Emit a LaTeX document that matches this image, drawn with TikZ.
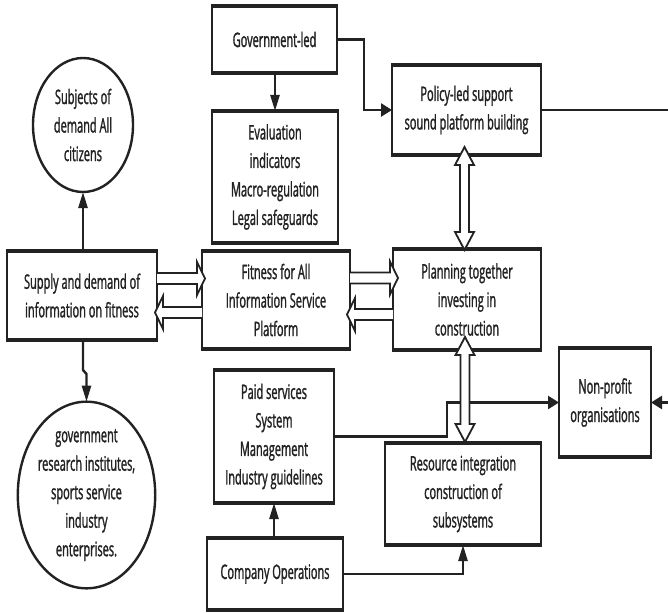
\documentclass[tikz,border=0pt]{standalone}
\usepackage{fontspec}
\setmainfont{Open Sans}[FakeStretch=0.55,FakeBold=1.3]
\usetikzlibrary{arrows.meta,shapes.geometric,calc}
\definecolor{ink}{HTML}{222222}
\begin{document}
\begin{tikzpicture}[x=1pt,y=-1pt,
  box/.style={draw=ink, line width=2pt, outer sep=0pt, inner sep=0pt, align=center,
    font=\fontsize{20}{28.5}\selectfont, text=ink},
  oval/.style={ellipse, draw=ink, line width=2.4pt, outer sep=0pt, inner sep=0pt, align=center,
    font=\fontsize{20}{28.5}\selectfont, text=ink},
  conn/.style={draw=ink, line width=2.4pt},
  vtip/.style={-{Triangle[length=16pt,width=9pt]}},
  htip/.style={-{Triangle[length=11pt,width=13pt]}},
  hollowh/.style={draw=ink, fill=white, line width=1.8pt, line join=miter,
    to path={let \p1=(\tikztostart),\p2=(\tikztotarget),\n1={ifthenelse(\x2>\x1,1,-1)} in
      (\x1,\y1+5.5pt) -- (\x2-\n1*8pt,\y1+5.5pt) -- (\x2-\n1*8pt,\y1+16.5pt) -- (\x2,\y1)
      -- (\x2-\n1*8pt,\y1-16.5pt) -- (\x2-\n1*8pt,\y1-5.5pt) -- (\x1,\y1-5.5pt)}},
  hollowv/.style={draw=ink, fill=white, line width=1.8pt, line join=miter,
    to path={let \p1=(\tikztostart),\p2=(\tikztotarget) in
      (\x1,\y1) -- (\x1+9.5pt,\y1-18pt) -- (\x1+4.5pt,\y1-18pt) -- (\x1+4.5pt,\y2+18pt)
      -- (\x1+9.5pt,\y2+18pt) -- (\x1,\y2) -- (\x1-9.5pt,\y2+18pt) -- (\x1-4.5pt,\y2+18pt)
      -- (\x1-4.5pt,\y1-18pt) -- (\x1-9.5pt,\y1-18pt) -- cycle}},
]
\useasboundingbox[fill=white] (0,0) rectangle (668,612);

% boxes
\node[box, minimum width=125pt, minimum height=67pt] (gov) at (274.5,39.5) {Government-led};
\node[box, minimum width=126pt, minimum height=132pt] (eval) at (275,177)
  {Evaluation\\indicators\\Macro-regulation\\Legal safeguards};
\node[box, minimum width=149pt, minimum height=90pt] (policy) at (466.5,110)
  {Policy-led support\\sound platform building};
\node[box, minimum width=150pt, minimum height=89pt] (supply) at (82,295.5)
  {Supply and demand of\\information on fitness};
\node[box, minimum width=148pt, minimum height=98pt] (fitness) at (276,300)
  {Fitness for All\\Information Service\\Platform};
\node[box, minimum width=148pt, minimum height=101pt] (planning) at (467,299.5)
  {Planning together\\investing in\\construction};
\node[box, minimum width=120pt, minimum height=133pt] (paid) at (274,436.5)
  {Paid services\\System\\Management\\Industry guidelines};
\node[box, minimum width=136pt, minimum height=72pt] (company) at (275,574)
  {Company Operations};
\node[box, minimum width=156pt, minimum height=102pt] (resource) at (463,494)
  {Resource integration\\construction of\\subsystems};
\node[box, minimum width=92pt, minimum height=109pt] (np) at (605,402.5)
  {Non-profit\\organisations};

% thicker top and bottom edges
\foreach \n in {gov,eval,policy,supply,fitness,planning,paid,company,resource,np}{
  \draw[ink, line width=3.5pt] ([xshift=-1pt]\n.north west) -- ([xshift=1pt]\n.north east);
  \draw[ink, line width=3.3pt] ([xshift=-1pt]\n.south west) -- ([xshift=1pt]\n.south east);
}

% ovals
\node[oval, minimum width=100pt, minimum height=134pt] (subj) at (83,125)
  {Subjects of\\demand All\\citizens};
\node[oval, minimum width=115pt, minimum height=186pt] (low) at (86.5,495)
  {government\\research institutes,\\sports service\\industry\\enterprises.};

% coordinates for connector bends and free ends
\coordinate (g1) at (364,39.5);
\coordinate (pe) at (668,110);
\coordinate (p1) at (447,436.5);
\coordinate (ne) at (668,402.5);

% plain connectors
\draw[conn, vtip] (gov.south -| eval.north) -- (eval.north);
\draw[conn, htip] (gov.east) -- (g1) |- (policy.west);
\draw[conn] (policy.east) -- (pe);
\draw[conn, vtip] (subj.south |- supply.north) -- (subj.south);
\draw[conn, vtip] (supply.south -| subj.south) -- ++(0,30) -- ++(3.5,4) -- (low.north);
\draw[conn, htip] (paid.east) -- (p1) |- (np.west);
\draw[conn, htip] (ne) -- (np.east);
\draw[conn, vtip] (company.north -| paid.south) -- (paid.south);
\draw[conn, vtip] (company.east) -| (resource.south);

% hollow arrows
\draw[hollowh] ([yshift=17pt]supply.east) to ([xshift=3pt]fitness.west);
\draw[hollowh] ([yshift=-12.5pt]fitness.west) to ([xshift=-2pt]supply.east);
\draw[hollowh] ([yshift=22pt]fitness.east) to ([xshift=5pt]planning.west);
\draw[hollowh] ([yshift=-15pt]planning.west) to ([xshift=-3pt]fitness.east);
\draw[hollowv] ([xshift=-2pt,yshift=8pt]policy.south) to ([yshift=-1pt]planning.north);
\draw[hollowv] ([xshift=-2pt,yshift=13pt]planning.south) to ([yshift=1pt]resource.north);
\end{tikzpicture}
\end{document}
